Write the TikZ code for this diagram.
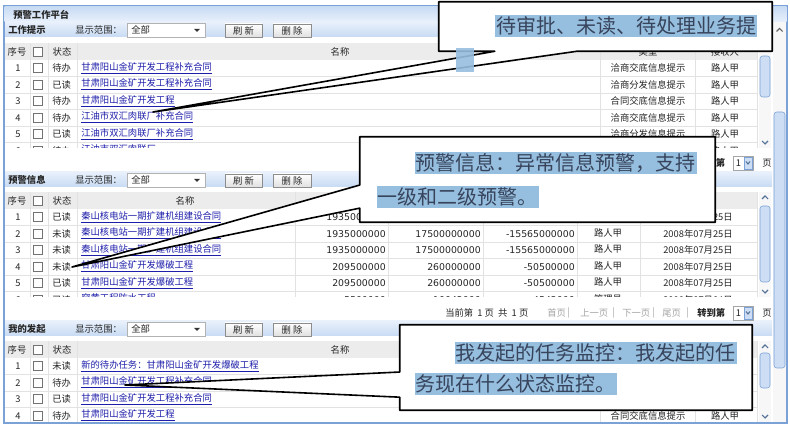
\documentclass[tikz,border=0pt]{standalone}
\usepackage{fontspec}
\setmainfont{Noto Sans CJK SC}
\newfontfamily\numfont{DejaVu Sans}
\usepackage{tikz}
\usetikzlibrary{calc}
\definecolor{panelblue}{RGB}{122,162,214}
\definecolor{barblue}{RGB}{200,219,244}
\definecolor{barblue2}{RGB}{232,240,251}
\definecolor{headgray}{RGB}{236,236,236}
\definecolor{linegray}{RGB}{226,226,226}
\definecolor{linkblue}{RGB}{30,30,170}
\definecolor{hlblue}{RGB}{150,190,222}
\definecolor{calltext}{RGB}{55,68,92}
\definecolor{pagegray}{RGB}{165,165,165}
\definecolor{sbblue}{RGB}{205,222,244}

\begin{document}
\begin{tikzpicture}[x=0.75pt,y=-0.75pt,
  ui/.style={font=\fontsize{7}{8}\selectfont, inner sep=0pt, text=black!85},
  uib/.style={ui, font=\fontsize{7}{8}\selectfont\bfseries},
  link/.style={ui, anchor=west, text=linkblue},
  cell/.style={ui, anchor=east, font=\fontsize{7}{8}\selectfont\numfont},
  btn/.style={draw=black!45, top color=white, bottom color=black!12},
  chk/.style={draw=black!55, fill=white, minimum size=6.75pt, inner sep=0pt},
  callbox/.style={draw=black, line width=1.2pt, fill=white, line join=round},
  callline/.style={fill=hlblue, text=calltext, font=\fontsize{15}{18}\selectfont, inner sep=0.5pt, minimum height=17pt, anchor=west},
  pager/.style={ui, anchor=west}]
  \useasboundingbox (0,0) rectangle (790,427);
  \fill[white] (0,0) rectangle (790,427);

  % panel and title bar
  \draw[panelblue, line width=0.8pt, fill=white] (4,6) rectangle (787,423);
  \shade[top color=barblue, bottom color=barblue2] (4.5,6.5) rectangle (786.5,22);
  \node[uib, anchor=west] (title) at (13,15) {预警工作平台};

  % outer scrollbar
  \fill[black!3] (773,22) rectangle (786,422);
  \draw[panelblue, fill=sbblue, rounded corners=2pt] (774,112) rectangle (785,368);
  \draw[black!60, line width=0.8pt] (776.5,31.5) -- (779.5,28.5) -- (782.5,31.5);

  % toolbars
  \foreach \by/\lab in {30/工作提示,180/预警信息,329/我的发起}{
    \shade[top color=barblue2, bottom color=barblue] (5,\by-8) rectangle (772,\by+7);
    \node[uib, anchor=west] (bar\by) at (8,\by) {\lab};
    \node[ui, anchor=west] (rng\by) at (75,\by) {显示范围：};
    \draw[black!30, fill=white] (127,\by-7) rectangle (205,\by+7);
    \node[ui, anchor=west] (all\by) at (131,\by) {全部};
    \fill[black!80] (194,\by-1) -- (200,\by-1) -- (197,\by+2) -- cycle;
    \draw[btn] (225,\by-6) rectangle (262,\by+7);
    \node[ui] (ref\by) at (243.5,\by+0.5) {刷\ 新};
    \draw[btn] (273,\by-6) rectangle (311,\by+7);
    \node[ui] (del\by) at (292,\by+0.5) {删\ 除};
  }

  % header rows
  \foreach \hy/\nx in {43/340,192/185,341/340}{
    \fill[headgray] (5,\hy) rectangle (758,\hy+17);
    \node[ui] (no\hy) at (17,\hy+8.5) {序号};
    \node[chk] (box\hy) at (38,\hy+8.5) {};
    \node[ui] (st\hy) at (62,\hy+8.5) {状态};
    \node[ui] (nm\hy) at (\nx,\hy+8.5) {名称};
  }
  \node[ui] (type1) at (648,51.5) {类型};
  \node[ui] (recv1) at (725,51.5) {接收人};

  % section 1: work reminders
  \begin{scope}
    \clip (5,60) rectangle (758,148);
    \foreach \i/\zt/\nm/\lx in {1/待办/甘肃阳山金矿开发工程补充合同/洽商交底信息提示,
      2/已读/甘肃阳山金矿开发工程补充合同/洽商分发信息提示,
      3/待办/甘肃阳山金矿开发工程/合同交底信息提示,
      4/待办/江油市双汇肉联厂补充合同/洽商交底信息提示,
      5/已读/江油市双汇肉联厂补充合同/洽商分发信息提示,
      6/待办/江油市双汇肉联厂/}{
      \pgfmathsetmacro\ry{60+16.5*(\i-0.5)}
      \draw[linegray] (5,\ry+8.25) -- (758,\ry+8.25);
      \node[ui] (a\i) at (18,\ry) {\i};
      \node[chk] (ac\i) at (38,\ry) {};
      \node[ui, anchor=west] (as\i) at (52,\ry) {\zt};
      \node[link] (an\i) at (81,\ry) {\underline{\nm}};
      \node[ui] (at\i) at (648,\ry) {\lx};
      \node[ui] (ar\i) at (725,\ry) {路人甲};
    }
  \end{scope}
  \foreach \cx in {30,48,77,600,695,757} \draw[linegray] (\cx,43) -- (\cx,148);

  % section 2: warnings
  \begin{scope}
    \clip (5,209) rectangle (758,297);
    \foreach \i/\zt/\nm/\va/\vb/\vc/\who/\dt in {
      1/已读/秦山核电站一期扩建机组建设合同/1935000000/17500000000/-15565000000/路人甲/2008年07月25日,
      2/未读/秦山核电站一期扩建机组建设合同/1935000000/17500000000/-15565000000/路人甲/2008年07月25日,
      3/未读/秦山核电站一期扩建机组建设合同/1935000000/17500000000/-15565000000/路人甲/2008年07月25日,
      4/未读/甘肃阳山金矿开发爆破工程/209500000/260000000/-50500000/路人甲/2008年07月25日,
      5/已读/甘肃阳山金矿开发爆破工程/209500000/260000000/-50500000/路人甲/2008年07月25日,
      6/已读/穿黄工程防水工程/5500000/10042000/4542000/管理员/2008年07月04日}{
      \pgfmathsetmacro\ry{209+16.5*(\i-0.5)}
      \draw[linegray] (5,\ry+8.25) -- (758,\ry+8.25);
      \node[ui] (b\i) at (18,\ry) {\i};
      \node[chk] (bc\i) at (38,\ry) {};
      \node[ui, anchor=west] (bs\i) at (52,\ry) {\zt};
      \node[link] (bn\i) at (81,\ry) {\underline{\nm}};
      \node[cell] (bva\i) at (386,\ry) {\va};
      \node[cell] (bvb\i) at (481,\ry) {\vb};
      \node[cell] (bvc\i) at (575,\ry) {\vc};
      \node[ui] (bw\i) at (608,\ry-1) {\who};
      \node[ui] (bd\i) at (698,\ry) {\dt};
    }
  \end{scope}
  \foreach \cx in {30,48,77,295,388,483,577,640,757} \draw[linegray] (\cx,192) -- (\cx,297);

  % section 3: my requests
  \begin{scope}
    \clip (5,358) rectangle (758,422);
    \foreach \i/\zt/\nm in {1/未读/新的待办任务：甘肃阳山金矿开发爆破工程,
      2/待办/甘肃阳山金矿开发工程补充合同,
      3/已读/甘肃阳山金矿开发工程补充合同,
      4/待办/甘肃阳山金矿开发工程}{
      \pgfmathsetmacro\ry{358+16.5*(\i-0.5)}
      \draw[linegray] (5,\ry+8.25) -- (758,\ry+8.25);
      \node[ui] (c\i) at (18,\ry) {\i};
      \node[chk] (cc\i) at (38,\ry) {};
      \node[ui, anchor=west] (cs\i) at (52,\ry) {\zt};
      \node[link] (cn\i) at (81,\ry) {\underline{\nm}};
    }
    \node[ui] (ct4) at (648,415.75) {合同交底信息提示};
    \node[ui] (cr4) at (725,415.75) {路人甲};
  \end{scope}
  \foreach \cx in {30,48,77,600,695,757} \draw[linegray] (\cx,341) -- (\cx,422);

  % section scrollbars
  \foreach \sa/\sb/\ta/\tb in {43/148/56/97,192/297/206/282,341/422/353/388}{
    \fill[black!3] (759,\sa) rectangle (771,\sb);
    \draw[panelblue, fill=sbblue, rounded corners=2pt] (760,\ta) rectangle (770,\tb);
    \draw[panelblue!70!black, line width=0.8pt] (762,\sa+7) -- (765,\sa+4) -- (768,\sa+7);
    \draw[panelblue!70!black, line width=0.8pt] (762,\sb-7) -- (765,\sb-4) -- (768,\sb-7);
  }

  % pagers
  \node[pager] (pg313) at (445,313) {当前第\ \ 1\ 页\ \ 共\ \ 1\ 页};
  \foreach \px/\pw in {547/首页,567/|,580/上一页,612/|,622/下一页,652/|,662/尾页,686/|}
    \node[pager, text=pagegray] at (\px,313) {\pw};
  \foreach \py in {163,313}{
    \node[pager, font=\fontsize{7}{8}\selectfont\bfseries] (go\py) at (697,\py) {转到第};
    \draw[black!35, fill=white] (733,\py-7) rectangle (753,\py+7);
    \node[ui] (one\py) at (738.5,\py) {1};
    \draw[panelblue, fill=sbblue] (744,\py-6) rectangle (752,\py+6);
    \draw[panelblue!70!black, line width=0.8pt] (746,\py-1.5) -- (748,\py+1) -- (750,\py-1.5);
    \node[pager] (pe\py) at (762,\py) {页};
  }

  % callouts
  \coordinate (t1) at (153,112);
  \coordinate (t2) at (72,267);
  \coordinate (t3) at (125,385);
  \node[inner sep=0pt, minimum width=249.75pt, minimum height=36.75pt] (c1) at (605.5,26.5) {};
  \node[inner sep=0pt, minimum width=266.25pt, minimum height=63.75pt] (c2) at (537.5,179.5) {};
  \node[inner sep=0pt, minimum width=264pt, minimum height=63.75pt] (c3) at (576,367.5) {};

  \draw[callbox] (c1.north west) -- (c1.north east) -- (c1.south east)
    -- ($(c1.south west)!0.414!(c1.south east)$) -- (t1)
    -- ($(c1.south west)!0.168!(c1.south east)$) -- (c1.south west) -- cycle;
  \fill[hlblue, opacity=0.9] (456,48) rectangle (474,72);
  \node[callline, anchor=east] (c1a) at (757,26) {待审批、未读、待处理业务提};

  \draw[callbox] (c2.north west) -- (c2.north east) -- (c2.south east) -- (c2.south west)
    -- ($(c2.north west)!0.835!(c2.south west)$) -- (t2)
    -- ($(c2.north west)!0.565!(c2.south west)$) -- cycle;
  \node[callline] (c2a) at (415,163) {预警信息：异常信息预警，支持};
  \node[callline] (c2b) at (377,197) {一级和二级预警。};

  \draw[callbox] (c3.north west) -- (c3.north east) -- (c3.south east) -- (c3.south west)
    -- ($(c3.north west)!0.847!(c3.south west)$) -- (t3)
    -- ($(c3.north west)!0.553!(c3.south west)$) -- cycle;
  \node[callline] (c3a) at (455,353) {我发起的任务监控：我发起的任};
  \node[callline] (c3b) at (415,384) {务现在什么状态监控。};
\end{tikzpicture}
\end{document}
